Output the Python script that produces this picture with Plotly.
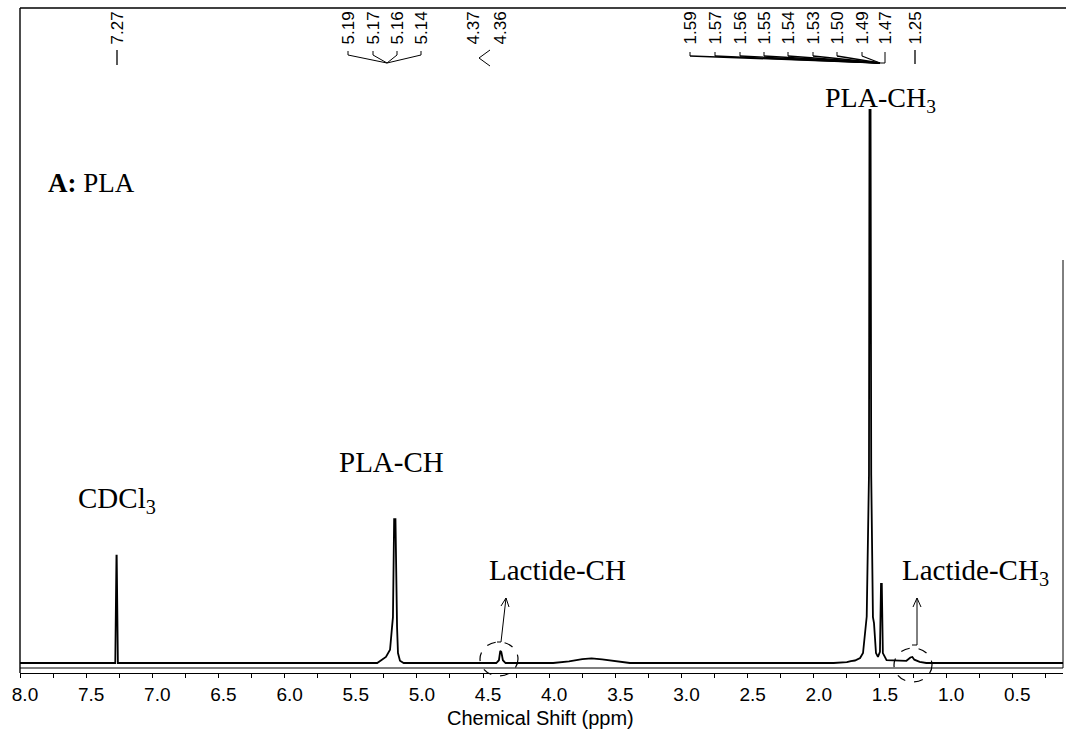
import plotly.graph_objects as go

# 1H NMR spectrum of PLA in CDCl3 (chemical shift in ppm, intensity in a.u.)
shift_ppm = [8.00, 7.280, 7.271, 7.269, 7.260,
             5.300, 5.234, 5.203, 5.188, 5.181, 5.172, 5.162, 5.150, 5.143, 5.128, 5.100,
             4.400, 4.380, 4.370, 4.362, 4.350, 4.330,
             3.970, 3.850, 3.750, 3.680, 3.600, 3.500, 3.390,
             1.850, 1.750, 1.720, 1.689, 1.650, 1.628, 1.600, 1.590, 1.583, 1.579, 1.571,
             1.566, 1.558, 1.553, 1.545, 1.530, 1.515, 1.500, 1.492, 1.486, 1.478, 1.462,
             1.450, 1.300, 1.270, 1.255, 1.240, 1.200, 1.150, 0.116]
intensity = [0.0, 0.0, 19.4, 19.4, 0.0,
             0.0, 1.1, 2.4, 6.5, 8.3, 26.0, 26.0, 6.5, 1.8, 0.4, 0.0,
             0.0, 0.5, 2.2, 2.0, 0.5, 0.0,
             0.0, 0.3, 0.7, 0.85, 0.65, 0.3, 0.0,
             0.0, 0.15, 0.35, 0.45, 0.9, 1.8, 8.4, 20.0, 34.0, 100.0, 100.0,
             34.0, 19.0, 8.3, 7.2, 1.8, 1.1, 2.0, 14.3, 14.3, 1.8, 0.9,
             0.5, 0.4, 1.0, 1.1, 0.6, 0.2, 0.0, 0.0]

# x-axis ticks
tick_vals = [8.0, 7.5, 7.0, 6.5, 6.0, 5.5, 5.0, 4.5, 4.0, 3.5, 3.0, 2.5, 2.0, 1.5, 1.0, 0.5]
tick_text = ["%.1f" % v for v in tick_vals]

# peak-picking labels printed above the spectrum
peak_single = ["7.27"]
peak_ch = ["5.19", "5.17", "5.16", "5.14"]
peak_lac = ["4.37", "4.36"]
peak_ch3 = ["1.59", "1.57", "1.56", "1.55", "1.54", "1.53", "1.50", "1.49", "1.47"]
peak_lac3 = ["1.25"]

W, H = 1066, 730
L, T, R, B = 20, 8, 3, 57
PW, PH = W - L - R, H - T - B


def px(x):
    return (x - L) / PW


def py(y):
    return 1 - (y - T) / PH


SANS = "Liberation Sans, Arial, sans-serif"
SERIF = "Liberation Serif, Times New Roman, serif"

fig = go.Figure()
fig.add_trace(go.Scatter(x=shift_ppm, y=intensity, mode="lines",
                         line=dict(color="black", width=1.8), hoverinfo="skip"))

shapes = []
annotations = []


def seg(x0, y0, x1, y1, width=1.0, dash=None):
    d = dict(type="line", xref="paper", yref="paper", x0=px(x0), y0=py(y0),
             x1=px(x1), y1=py(y1), line=dict(color="black", width=width))
    if dash:
        d["line"]["dash"] = dash
    shapes.append(d)


# frame
seg(20, 8, 1066, 8, 1.6)
seg(20, 8, 20, 673, 1.4)
seg(1063, 260, 1063, 668, 1.0)
seg(20, 668, 1063, 668, 1.2)

# peak labels (rotated)
label_groups = [
    (peak_single, [117]),
    (peak_ch, [348, 373, 397, 421]),
    (peak_lac, [473, 500]),
    (peak_ch3, [690, 715, 740, 764, 788, 813, 837, 862, 885]),
    (peak_lac3, [915]),
]
for texts, xs in label_groups:
    for t, x in zip(texts, xs):
        annotations.append(dict(text=t, x=px(x), y=py(47), xref="paper", yref="paper",
                                textangle=-90, xanchor="center", yanchor="bottom",
                                showarrow=False, font=dict(family=SANS, size=17, color="black")))

# connector marks under the labels
seg(117, 50, 117, 65, 1.3)
seg(915, 50, 915, 64, 1.3)
for x in [348, 373, 397, 421]:
    seg(x, 51, x, 55)
    seg(x, 55, 387, 63)
seg(490, 50, 479, 58)
seg(479, 58, 490, 66)
for x in [690, 715, 740, 764, 788, 813, 837, 862]:
    seg(x, 52, x, 56)
    seg(x, 56, 880, 63, 1.3)
seg(885, 52, 885, 63)
seg(880, 63, 885, 63)


# text labels on the spectrum
def label(text, x, y, size, xanchor="center"):
    annotations.append(dict(text=text, x=px(x), y=py(y), xref="paper", yref="paper",
                            xanchor=xanchor, yanchor="middle", showarrow=False,
                            font=dict(family=SERIF, size=size, color="black")))


label("<b>A:</b> PLA", 46, 183, 27, xanchor="left")
label("CDCl<sub>3</sub>", 117, 500, 29)
label("PLA-CH", 391, 462, 29)
label("Lactide-CH", 557, 570, 29)
label("PLA-CH<sub>3</sub>", 880, 100, 28)
label("Lactide-CH<sub>3</sub>", 975, 572, 29)

# arrows pointing at the lactide signals
seg(497, 642, 501, 642)
seg(501, 642, 506, 598)
seg(506, 598, 501, 606)
seg(506, 598, 509, 607)
seg(912, 645, 917, 645)
seg(917, 645, 917, 598)
seg(917, 598, 913, 607)
seg(917, 598, 921, 607)

# dashed rings around the lactide signals
for cx, cy, rx, ry in [(499, 659, 19, 17), (913, 665, 19, 17)]:
    shapes.append(dict(type="circle", xref="paper", yref="paper",
                       x0=px(cx - rx), x1=px(cx + rx), y0=py(cy + ry), y1=py(cy - ry),
                       line=dict(color="black", width=1.2, dash="dash")))

# axis title
annotations.append(dict(text="Chemical Shift (ppm)", x=px(540), y=py(718), xref="paper",
                        yref="paper", xanchor="center", yanchor="middle", showarrow=False,
                        font=dict(family=SANS, size=20, color="black")))

base_px = 663
unit_px = (base_px - 110) / 100.0
y_min = -(T + PH - base_px) / unit_px
y_max = (base_px - T) / unit_px

fig.update_layout(
    width=W, height=H,
    margin=dict(l=L, r=R, t=T, b=B),
    paper_bgcolor="white", plot_bgcolor="white",
    showlegend=False,
    shapes=shapes, annotations=annotations,
    xaxis=dict(range=[8.0, 8.0 - PW / 132.3], tickvals=tick_vals, ticktext=tick_text,
               showgrid=False, zeroline=False, showline=True, linecolor="black", linewidth=1.4,
               ticks="outside", ticklen=4, tickwidth=1.2, tickcolor="black",
               minor=dict(dtick=0.25, tick0=0, ticks="outside", ticklen=4, tickwidth=1.2,
                          tickcolor="black", showgrid=False),
               tickfont=dict(family=SANS, size=19, color="black"),
               ticklabelstandoff=0, ticklabelshift=-5),
    yaxis=dict(range=[y_min, y_max], visible=False, showgrid=False, zeroline=False),
)

fig.write_html("out.html")
